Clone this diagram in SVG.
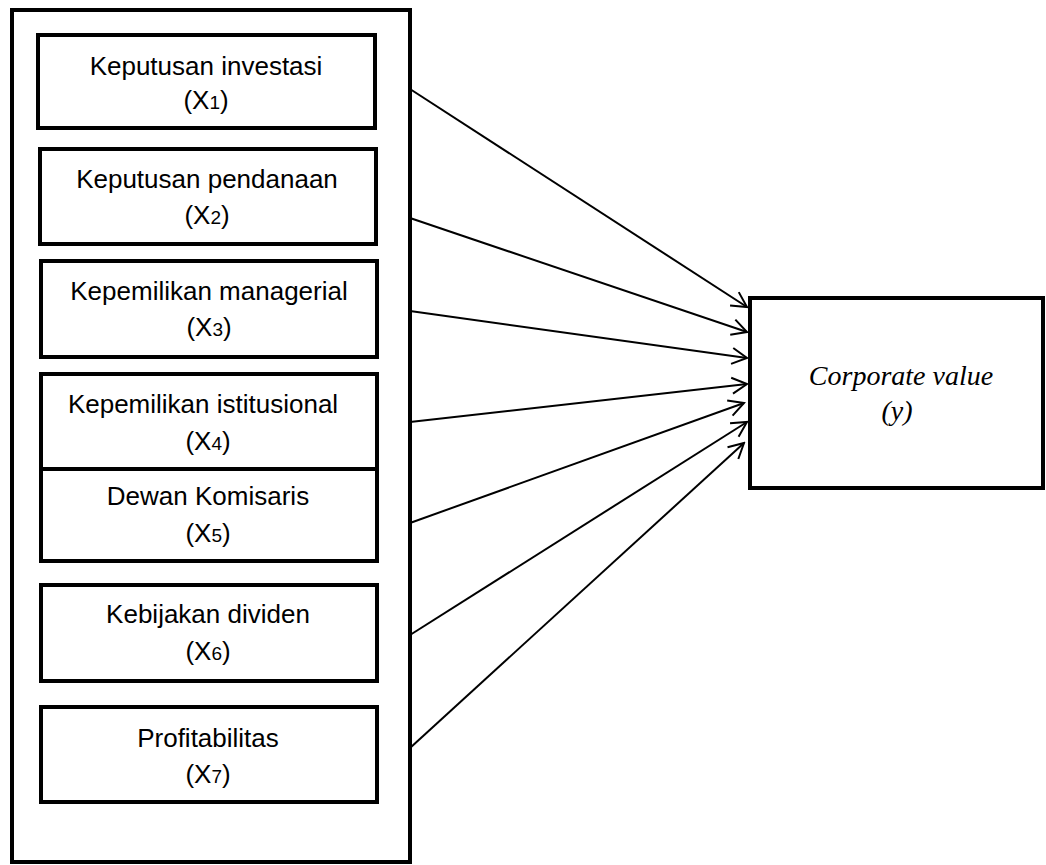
<svg xmlns="http://www.w3.org/2000/svg" width="1046" height="865" viewBox="0 0 1046 865">
<style>
.box{fill:#fff;stroke:#000;stroke-width:4}
.lbl{font-family:"Liberation Sans",Arial,sans-serif;font-size:26px;fill:#000;text-anchor:middle}
.sub{font-size:19px}
.tgt{font-family:"Liberation Serif","Times New Roman",serif;font-size:28px;font-style:italic;fill:#000;text-anchor:middle}
.arr{stroke:#000;stroke-width:2;fill:none;marker-end:url(#ah)}
</style>
<defs>
<marker id="ah" viewBox="-17 -10 19 20" refX="0" refY="0" markerWidth="19" markerHeight="20" markerUnits="userSpaceOnUse" orient="auto">
<path d="M-15,-8 L0,0 L-15,8" fill="none" stroke="#000" stroke-width="2"/>
</marker>
</defs>
<rect fill="#fff" x="0" y="0" width="1046" height="865"/>
<g id="outer"><rect class="box" x="12" y="10" width="398" height="852"/></g>
<g id="x1"><rect class="box" x="38" y="35" width="337" height="93"/>
<text class="lbl" x="206" y="75">Keputusan investasi</text>
<text class="lbl" x="206" y="109">(X<tspan class="sub">1</tspan>)</text></g>
<g id="x2"><rect class="box" x="40" y="149" width="336" height="95"/>
<text class="lbl" x="207" y="188">Keputusan pendanaan</text>
<text class="lbl" x="207" y="224">(X<tspan class="sub">2</tspan>)</text></g>
<g id="x3"><rect class="box" x="41" y="261" width="336" height="96"/>
<text class="lbl" x="209" y="300">Kepemilikan managerial</text>
<text class="lbl" x="209" y="336">(X<tspan class="sub">3</tspan>)</text></g>
<g id="x4"><rect class="box" x="41" y="374" width="336" height="95"/>
<text class="lbl" x="203" y="413">Kepemilikan istitusional</text>
<text class="lbl" x="208" y="450">(X<tspan class="sub">4</tspan>)</text></g>
<g id="x5"><rect class="box" x="41" y="469" width="336" height="92"/>
<text class="lbl" x="208" y="505">Dewan Komisaris</text>
<text class="lbl" x="208" y="542">(X<tspan class="sub">5</tspan>)</text></g>
<g id="x6"><rect class="box" x="41" y="585" width="336" height="96"/>
<text class="lbl" x="208" y="623">Kebijakan dividen</text>
<text class="lbl" x="208" y="660">(X<tspan class="sub">6</tspan>)</text></g>
<g id="x7"><rect class="box" x="41" y="707" width="336" height="95"/>
<text class="lbl" x="208" y="747">Profitabilitas</text>
<text class="lbl" x="208" y="783">(X<tspan class="sub">7</tspan>)</text></g>
<g id="y"><rect class="box" x="750" y="298" width="293" height="190"/>
<text class="tgt" x="901" y="385">Corporate value</text>
<text class="tgt" x="897" y="420">(y)</text></g>
<g id="connectors">
<line class="arr" x1="410" y1="89" x2="747" y2="307"/>
<line class="arr" x1="410" y1="218" x2="747" y2="332"/>
<line class="arr" x1="410" y1="311" x2="747" y2="358"/>
<line class="arr" x1="410" y1="422" x2="747" y2="384"/>
<line class="arr" x1="410" y1="523" x2="744" y2="403"/>
<line class="arr" x1="410" y1="635" x2="747" y2="422"/>
<line class="arr" x1="410" y1="748" x2="744" y2="443"/>
</g>
</svg>
